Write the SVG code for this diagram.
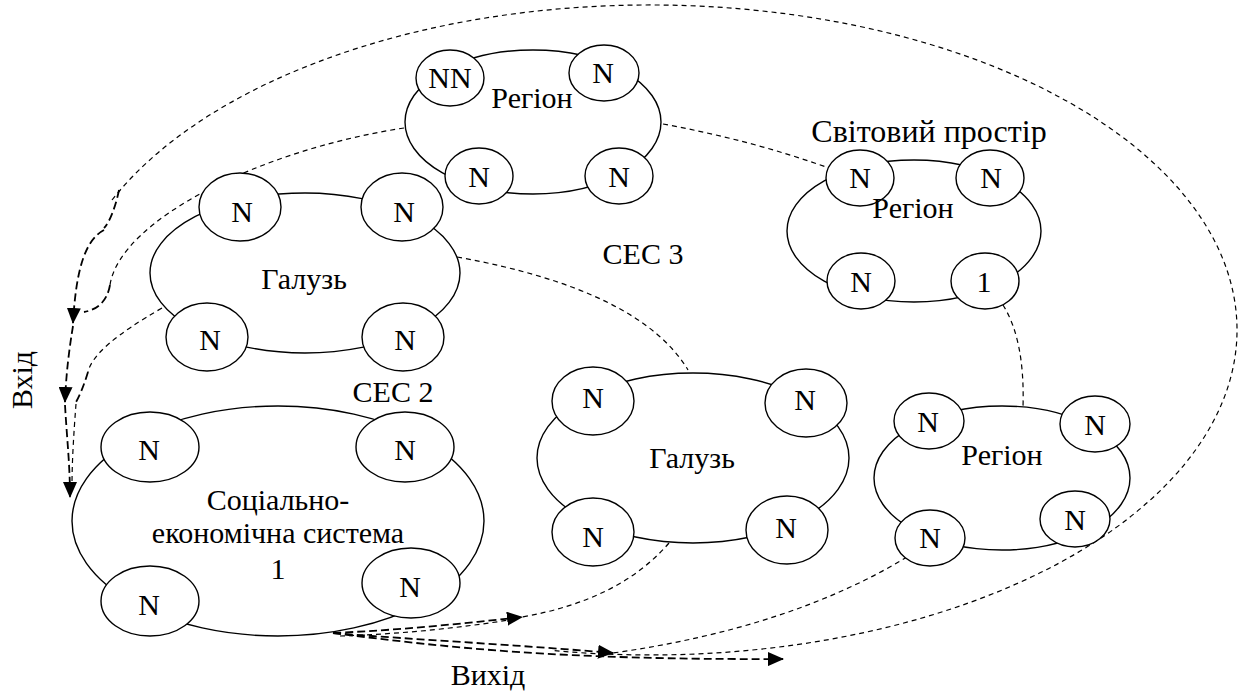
<svg xmlns="http://www.w3.org/2000/svg" width="1238" height="691" viewBox="0 0 1238 691">
<style>
.big{fill:#fff;stroke:#000;stroke-width:1.4}
.sm{fill:#fff;stroke:#000;stroke-width:1.4}
.t{font-family:'Liberation Serif','Times New Roman',serif;font-size:30px;fill:#000;text-anchor:middle}
.thin{fill:none;stroke:#000;stroke-width:1.2;stroke-dasharray:5 4}
.thick{fill:none;stroke:#000;stroke-width:1.8;stroke-dasharray:8 4}
</style>
<defs>
<marker id="ah" markerUnits="userSpaceOnUse" markerWidth="16" markerHeight="14" viewBox="0 0 16 14" refX="15" refY="7" orient="auto">
<path d="M0,0 L16,7 L0,14 z" fill="#000"/>
</marker>
</defs>
<rect width="1238" height="691" fill="#fff"/>
<g id="connectors">
<path class="thin" d="M112,200 A587,325 0 1 1 553,650.5"/>
<path class="thin" d="M404,128 C260,150 120,220 110,285"/>
<path class="thick" d="M110,285 Q106,308 84,312"/>
<path class="thin" d="M162,308 C115,335 92,355 88,372"/>
<path class="thick" d="M88,372 C84,385 80,395 76,402"/>
<path class="thin" d="M76,404 C74,430 72,460 72,485"/>
<path class="thin" d="M663,124 Q750,140 826,167"/>
<path class="thin" d="M457,257 Q640,290 688,370"/>
<path class="thin" d="M1003,305 Q1025,340 1023,407"/>
<path class="thin" d="M669,543 Q620,600 522,617"/>
<path class="thin" d="M907,557 Q790,628 613,653"/>
<path class="thin" d="M340,636 Q430,633 515,619"/>
<path class="thick" d="M119,190 C116,205 110,222 104,228"/>
<path class="thick" d="M104,230 C85,240 76,270 73,323" marker-end="url(#ah)"/>
<path class="thick" d="M73,326 C69,350 66,375 65,402" marker-end="url(#ah)"/>
<path class="thick" d="M65,405 C67,440 70,465 70,497" marker-end="url(#ah)"/>
<path class="thick" d="M333,633 C400,630 460,624 522,617" marker-end="url(#ah)"/>
<path class="thick" d="M333,633 C420,640 520,645 613,653" marker-end="url(#ah)"/>
<path class="thick" d="M333,633 C450,648 560,660 783,659" marker-end="url(#ah)"/>
</g>
<g id="region-top">
<ellipse class="big" cx="533" cy="122" rx="128" ry="72"/>
<ellipse class="sm" cx="450" cy="78" rx="34" ry="28"/>
<ellipse class="sm" cx="604" cy="73" rx="35" ry="28"/>
<ellipse class="sm" cx="479" cy="176" rx="34" ry="28"/>
<ellipse class="sm" cx="619" cy="176" rx="34" ry="28"/>
<text class="t" x="450" y="88">NN</text>
<text class="t" x="603" y="83">N</text>
<text class="t" x="479" y="187">N</text>
<text class="t" x="619" y="187">N</text>
<text class="t" x="532" y="108">Регіон</text>
</g>
<g id="region-right">
<ellipse class="big" cx="914" cy="231" rx="127" ry="71"/>
<ellipse class="sm" cx="860" cy="178" rx="34" ry="28"/>
<ellipse class="sm" cx="990" cy="178" rx="34" ry="28"/>
<ellipse class="sm" cx="861" cy="281" rx="34" ry="28"/>
<ellipse class="sm" cx="985" cy="281" rx="34" ry="28"/>
<text class="t" x="860" y="188">N</text>
<text class="t" x="991" y="188">N</text>
<text class="t" x="861" y="292">N</text>
<text class="t" x="984" y="292">1</text>
<text class="t" x="913" y="218">Регіон</text>
</g>
<g id="world-label"><text class="t" x="929" y="142" style="font-size:32px">Світовий простір</text></g>
<g id="branch-top">
<ellipse class="big" cx="305" cy="273" rx="155" ry="80"/>
<ellipse class="sm" cx="240" cy="207" rx="41" ry="34"/>
<ellipse class="sm" cx="402" cy="207" rx="41" ry="34"/>
<ellipse class="sm" cx="207" cy="337" rx="41" ry="34"/>
<ellipse class="sm" cx="403" cy="337" rx="41" ry="34"/>
<text class="t" x="242" y="222">N</text>
<text class="t" x="404" y="222">N</text>
<text class="t" x="210" y="350">N</text>
<text class="t" x="405" y="350">N</text>
<text class="t" x="304" y="289">Галузь</text>
</g>
<g id="ses-labels">
<text class="t" x="643" y="264">СЕС 3</text>
<text class="t" x="393" y="402">СЕС 2</text>
</g>
<g id="ses1">
<ellipse class="big" cx="278" cy="521" rx="206" ry="115"/>
<ellipse class="sm" cx="150" cy="447" rx="49" ry="35"/>
<ellipse class="sm" cx="405" cy="447" rx="49" ry="35"/>
<ellipse class="sm" cx="150" cy="601" rx="49" ry="35"/>
<ellipse class="sm" cx="411" cy="583" rx="49" ry="35"/>
<text class="t" x="149" y="460">N</text>
<text class="t" x="405" y="460">N</text>
<text class="t" x="149" y="615">N</text>
<text class="t" x="410" y="597">N</text>
<text class="t" x="278" y="510">Соціально-</text>
<text class="t" x="278" y="543">економічна система</text>
<text class="t" x="278" y="579">1</text>
</g>
<g id="branch-mid">
<ellipse class="big" cx="693" cy="458" rx="156" ry="85"/>
<ellipse class="sm" cx="593" cy="401" rx="41" ry="34"/>
<ellipse class="sm" cx="806" cy="403" rx="41" ry="34"/>
<ellipse class="sm" cx="593" cy="532" rx="41" ry="34"/>
<ellipse class="sm" cx="787" cy="530" rx="41" ry="34"/>
<text class="t" x="593" y="408">N</text>
<text class="t" x="805" y="410">N</text>
<text class="t" x="593" y="547">N</text>
<text class="t" x="786" y="538">N</text>
<text class="t" x="692" y="468">Галузь</text>
</g>
<g id="region-bottom">
<ellipse class="big" cx="1002" cy="478" rx="128" ry="72"/>
<ellipse class="sm" cx="929" cy="421" rx="35" ry="28"/>
<ellipse class="sm" cx="1095" cy="424" rx="35" ry="28"/>
<ellipse class="sm" cx="930" cy="538" rx="35" ry="28"/>
<ellipse class="sm" cx="1075" cy="519" rx="35" ry="28"/>
<text class="t" x="928" y="432">N</text>
<text class="t" x="1095" y="435">N</text>
<text class="t" x="930" y="548">N</text>
<text class="t" x="1075" y="530">N</text>
<text class="t" x="1002" y="465">Регіон</text>
</g>
<g id="io-labels">
<text class="t" x="488" y="685">Вихід</text>
<text class="t" transform="translate(32,380) rotate(-90)" x="0" y="0">Вхід</text>
</g>
</svg>
